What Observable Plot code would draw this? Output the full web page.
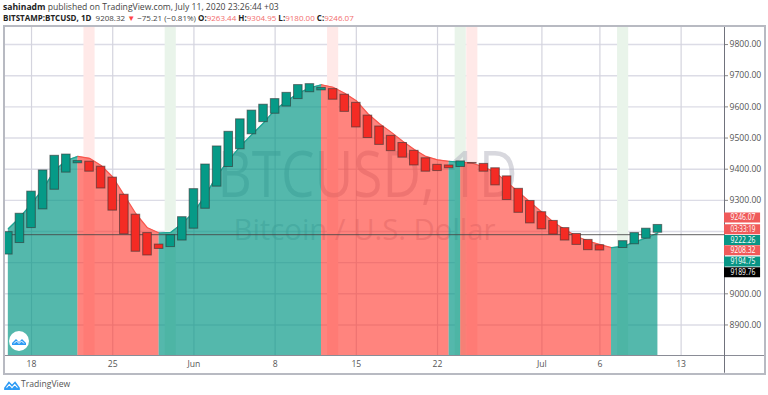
<!DOCTYPE html>
<html><head><meta charset="utf-8">
<script src="https://cdn.jsdelivr.net/npm/d3@7"></script>
<script src="https://cdn.jsdelivr.net/npm/@observablehq/plot@0.6"></script>
<style>
html,body{margin:0;padding:0;background:#fff;width:768px;height:395px;overflow:hidden;font-family:"Open Sans",sans-serif}
#wrap{position:relative;width:768px;height:395px}
#head{position:absolute;left:3px;top:1px;color:#444;white-space:nowrap}
#head b{color:#222;font-weight:700}
#head .r{color:#f26d6d}
#l1{height:11px;line-height:12px;font-size:8.6px}
#l2{height:11px;line-height:11px;font-size:8px}
#box{position:absolute;left:3px;top:25px;width:759px;height:346px;border:2px solid #b8bac2;pointer-events:none}
#chart{position:absolute;left:0;top:25px}
#logo{position:absolute;left:9px;top:331px;width:20px;height:20px;border-radius:50%;background:#fff}
#foot{position:absolute;left:4px;top:377px;height:14px;font-size:8.6px;line-height:14px;color:#555;display:flex;align-items:center;gap:1px}
</style></head><body>
<div id="wrap">
<div id="head">
<div id="l1"><b>sahinadm</b> published on TradingView.com, July 11, 2020 23:26:44 +03</div>
<div id="l2"><b>BITSTAMP:BTCUSD, 1D</b>&nbsp; 9208.32 <span style="color:#f44">▼</span> −75.21 (−0.81%) <b>O:</b><span class="r">9263.44</span> <b>H:</b><span class="r">9304.95</span> <b>L:</b><span class="r">9180.00</span> <b>C:</b><span class="r">9246.07</span></div>
</div>
<div id="chart"></div>
<div id="box"></div>
<div id="logo"><svg width="20" height="20" viewBox="0 0 20 20"><path d="M3 12 L7 8 L10 11 L13 8 L17 12 L17 14 L3 14 Z" fill="#2e9bf5"/><path d="M5 12.5 L7.5 10 L10 12.5 L12.5 10 L15 12.5" fill="none" stroke="#fff" stroke-width="1"/></svg></div>
<div id="foot"><svg width="16" height="11" viewBox="0 0 20 14"><path d="M0 11 L6 3 L10 7 L14 3 L20 11 L20 14 L0 14 Z" fill="#2e9bf5"/><path d="M3 11 L6.5 7 L10 11 L13.5 7 L17 11" fill="none" stroke="#fff" stroke-width="1.3"/></svg><span>TradingView</span></div>
</div>
<script>
// first day of the series is 2020-05-16
const firstDay = Date.UTC(2020, 4, 16);
const DAY = 864e5;
const smooth = [9209,9245,9289,9337,9396,9428,9441,9435,9412,9375,9316,9257,9212,9195,9197,9226,9262,9316,9380,9428,9473,9511,9548,9591,9618,9644,9661,9671,9663,9644,9620,9578,9546,9519,9490,9463,9441,9430,9425,9423,9419,9407,9389,9358,9326,9294,9262,9230,9206,9184,9169,9158,9148,9152,9166,9179,9195];
// body edges per day; null where no body is visible
const bodyHigh = [9198,9257,9328,9396,9443,9447,9426,9424,9408,9373,9318,9254,9195,9158,9188,9246,9336,9415,9473,9520,9560,9588,9607,9625,9645,9670,9673,9661,9657,9639,9613,9572,9537,9507,9484,9459,9435,9414,9412,9425,9420,9417,9403,9377,9337,9298,9262,9234,9211,9192,9173,9156,null,9169,9195,9209,9221];
const bodyLow  = [9126,9163,9211,9271,9334,9389,9419,9392,9338,9267,9191,9135,9123,9144,9150,9171,9209,9273,9344,9407,9464,9512,9551,9578,9601,9625,9647,9653,9623,9584,9534,9500,9478,9458,9437,9412,9392,9394,9403,9407,9418,9392,9348,9301,9260,9226,9207,9190,9171,9157,9140,9139,null,9147,9159,9177,9196];
const bodyRising = [1,1,1,1,1,1,1,0,0,0,0,0,0,0,1,1,1,1,1,1,1,1,1,1,1,1,1,1,0,0,0,0,0,0,0,0,0,0,0,1,0,0,0,0,0,0,0,0,0,0,0,0,0,1,1,1,1];
// trend segments as day indexes into the series
const segStart = [0,6,13,27,38,39,52];
const segEnd   = [6,13,27,38,39,52,56];
const segRising= [1,0,1,0,1,0,1];
// pale signal bands
const bandDay = [7,14,28,39,40,53];
const bandRising = [0,1,0,1,0,1];
const yTicks = [8900,9000,9300,9400,9500,9600,9700,9800];
const yGrid = [8900,9000,9100,9200,9300,9400,9500,9600,9700,9800];
const xTickDates = ["2020-05-18","2020-05-25","2020-06-01","2020-06-08","2020-06-15","2020-06-22","2020-07-01","2020-07-06","2020-07-13"];
const xTickLabels = ["18","25","Jun","8","15","22","Jul","6","13"];
const tagLabels = ["9246.07","03:33:19","9222.26","9208.32","9194.75","9189.76"];
const tagPlace = [9245,9207,9173,9140,9104,9069];
const tagColors = ["#f05a5a","#f05a5a","#089585","#f05a5a","#089585","#000000"];
const lastPrice = 9189.76;

const COL = {up:"rgba(0,149,131,.67)", down:"rgba(255,50,40,.6)", upL:"#1ea594", downL:"#f8564c"};
const NARROW = "'Liberation Sans Narrow','Open Sans',sans-serif";
const dayAt = i => new Date(firstDay + i*DAY);
const xT = xTickDates.map(s => new Date(s));
const candles = bodyHigh.map((h,i)=>({i,h,l:bodyLow[i],r:bodyRising[i]})).filter(d=>d.h!=null);
const segRows = segStart.flatMap((s,k)=>d3.range(s,segEnd[k]+1).map(i=>({d:dayAt(i),v:smooth[i],seg:k,c:segRising[k]?COL.up:COL.down,lc:segRising[k]?COL.upL:COL.downL})));
const bands = bandDay.map((b,k)=>({b,c:bandRising[k]?"#e9f4ea":"#ffe9e8"}));
const tags = tagLabels.map((t,k)=>({t,p:tagPlace[k],c:tagColors[k]}));
const yMin=8802, yMax=9858;
const xMin=dayAt(-0.33), xMax=dayAt(61.74), outer=dayAt(65.2);

const fig = Plot.plot({
  width:768,height:350,marginLeft:4,marginRight:44,marginTop:1,marginBottom:20,
  style:{fontFamily:NARROW,fontSize:"8.6px",background:"transparent",overflow:"visible"},
  x:{type:"utc",domain:[xMin,xMax]},
  y:{domain:[yMin,yMax]},
  color:{type:"identity"},
  marks:[
    Plot.gridY(yGrid,{stroke:"#dcdce6",strokeOpacity:1,strokeWidth:1.4}),
    Plot.gridX(xT,{stroke:"#d4d4de",strokeOpacity:1,strokeWidth:1.2}),
    Plot.rect(bands,{x1:d=>dayAt(d.b-.48),x2:d=>dayAt(d.b+.48),fill:"c"}),
    Plot.text(["BTCUSD, 1D"],{frameAnchor:"middle",y:()=>9375,dx:3,fontSize:64,fill:"#b4b4c0",fillOpacity:.52,fontFamily:"'Open Sans',sans-serif",className:"wm1"}),
    Plot.text(["Bitcoin / U.S. Dollar"],{frameAnchor:"middle",y:()=>9203,dx:0,fontSize:30,fill:"#b4b4c0",fillOpacity:.52,fontFamily:"'Open Sans',sans-serif",className:"wm2"}),
    Plot.areaY(segRows,{x:"d",y1:()=>yMin,y2:"v",z:"seg",fill:"c"}),
    Plot.line(segRows,{x:"d",y:"v",z:"seg",stroke:"lc",strokeWidth:1.2}),
    Plot.ruleY([lastPrice],{stroke:"#444",strokeWidth:1,strokeOpacity:.85}),
    Plot.rect(candles,{x1:d=>dayAt(d.i-.37),x2:d=>dayAt(d.i+.37),y1:"l",y2:"h",fill:d=>d.r?"#069a87":"#f42b24",stroke:"#333",strokeOpacity:.6,strokeWidth:1}),
    Plot.ruleY([yMin],{x1:()=>xMin,x2:()=>outer,stroke:"#8a8c96",strokeWidth:1}),
    Plot.ruleX([xMax],{y1:()=>yMax,y2:()=>8745,stroke:"#70727c",strokeWidth:1}),
    Plot.axisX({ticks:xT,tickFormat:d=>xTickLabels[xT.findIndex(t=>+t===+d)],tickSize:0,tickPadding:5,fill:"#555",label:null,anchor:"bottom"}),
    Plot.axisY({ticks:yTicks,tickFormat:d=>d.toFixed(2),anchor:"right",tickSize:3,tickPadding:2,fill:"#555",stroke:"#888",label:null}),
    Plot.ruleY(tags,{y:"p",x1:()=>dayAt(61.74),x2:()=>dayAt(64.85),stroke:"c",strokeWidth:10}),
    Plot.text(tags,{y:"p",x:()=>dayAt(62.25),text:"t",fill:"#fff",textAnchor:"start",fontSize:8.2,fontFamily:NARROW,className:"tagt"})
  ]
});
// squeeze the watermark lines and tag labels to the reference's widths
d3.select(fig).selectAll(".wm1 text").attr("textLength",300).attr("lengthAdjust","spacingAndGlyphs");
d3.select(fig).selectAll(".wm2 text").attr("textLength",262).attr("lengthAdjust","spacingAndGlyphs");
d3.select(fig).selectAll(".tagt text").attr("textLength",25).attr("lengthAdjust","spacingAndGlyphs");
document.getElementById("chart").append(fig);
</script>
</body></html>
